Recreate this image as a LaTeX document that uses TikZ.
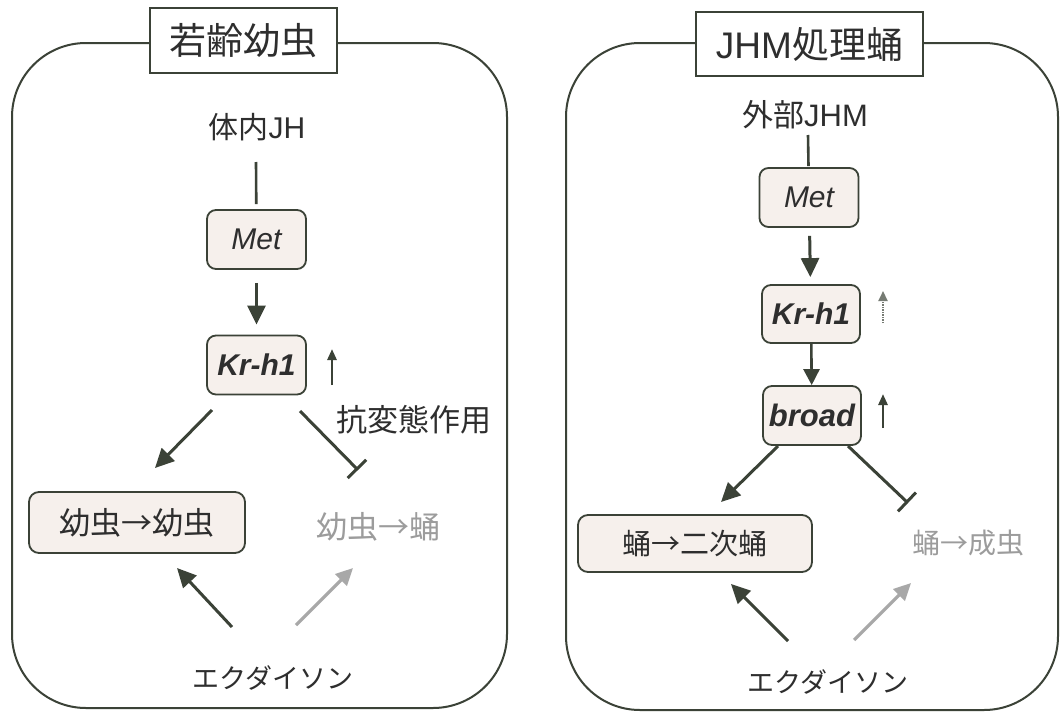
\documentclass[tikz,border=0pt]{standalone}
\usepackage{fontspec}
\setmainfont{Noto Sans CJK JP}
\newfontfamily\latf{Liberation Sans}
\usetikzlibrary{arrows.meta}
\definecolor{ink}{HTML}{3B4237}
\definecolor{boxfill}{HTML}{F6F0EC}
\definecolor{txt}{HTML}{2E2E2E}
\definecolor{pale}{HTML}{9C9C9C}
\definecolor{palearrow}{HTML}{A8A8A8}
\begin{document}
\begin{tikzpicture}[x=1pt,y=-1pt,
  panel/.style={draw=ink, line width=2pt, rounded corners=74pt},
  titlebox/.style={draw=ink, line width=2.4pt, fill=white, inner sep=0pt, text=txt,
    font=\fontsize{37}{40}\selectfont},
  gene/.style={draw=ink, line width=1.8pt, fill=boxfill, rounded corners=9pt,
    minimum width=99pt, minimum height=59pt, inner sep=0pt, text=txt},
  stagebox/.style={draw=ink, line width=1.8pt, fill=boxfill, rounded corners=10pt,
    inner sep=0pt, text=txt, font=\fontsize{28}{30}\selectfont},
  lbl/.style={text=txt, inner sep=0pt, font=\fontsize{27}{30}\selectfont},
  palelbl/.style={text=pale, inner sep=0pt, font=\fontsize{28}{30}\selectfont},
  link/.style={draw=ink, line width=2.6pt},
  act/.style={draw=ink, line width=3pt, -{Triangle[length=19pt,width=18pt]}},
  inh/.style={draw=ink, line width=3pt, -{Bar[width=26pt,line width=3pt]}},
  weak/.style={draw=palearrow, line width=3.2pt, -{Triangle[length=17pt,width=16pt]}},
  uparrow/.style={draw=ink, line width=2.6pt, -{Triangle[length=11pt,width=9pt]}},
  paleup/.style={draw=ink!70, line width=2pt, dash pattern=on 1.5pt off 1pt, -{Triangle[length=10pt,width=9pt]}},
]
\useasboundingbox (0,0) rectangle (1062,720);
\fill[white] (0,0) rectangle (1062,720);

% ---------- left panel ----------
\draw[panel] (12,43) rectangle (507,708);
\node[titlebox, minimum width=187pt, minimum height=65pt] (tL) at (243.5,40.5) {若齢幼虫};

\node[lbl, font=\fontsize{30}{32}\selectfont] (jhL) at (257,127) {体内{\latf JH}};
\node[gene] (metL) at (256.5,239.5) {\fontsize{30}{30}\selectfont\latf\itshape Met};
\node[gene] (krL) at (256.5,365) {\fontsize{30}{30}\selectfont\latf\bfseries\itshape Kr-h1};
\node[lbl, font=\fontsize{31}{32}\selectfont] (antiL) at (414,420) {抗変態作用};
\node[stagebox, minimum width=216pt, minimum height=61pt, font=\fontsize{31}{32}\selectfont] (llL) at (137,522.5) {幼虫→幼虫};
\node[palelbl, font=\fontsize{31}{32}\selectfont] (lpL) at (378,527) {幼虫→蛹};
\node[lbl] (ecL) at (273,678) {エクダイソン};

\coordinate (jhLe) at (256,162);
\coordinate (krLa) at (212,410);
\coordinate (krLb) at (300,411);
\coordinate (llLt) at (155,468);
\coordinate (lpLt) at (358,470);
\coordinate (ecLa) at (232,627);
\coordinate (ecLb) at (296,625);
\coordinate (llLb) at (177,568);
\coordinate (lpLb) at (353,568);
\coordinate (upLs) at (332,385);
\coordinate (upLe) at (332,349);

\draw[link, shorten >=5pt] (jhLe) -- (metL);
\draw[act, shorten <=13pt, shorten >=10pt] (metL) -- (krL);
\draw[act] (krLa) -- (llLt);
\draw[inh] (krLb) -- (lpLt);
\draw[act] (ecLa) -- (llLb);
\draw[weak] (ecLb) -- (lpLb);
\draw[uparrow] (upLs) -- (upLe);

% ---------- right panel ----------
\draw[panel] (566,43) rectangle (1058,710);
\node[titlebox, minimum width=227pt, minimum height=64pt] (tR) at (809.5,44) {{\latf JHM}処理蛹};

\node[lbl, font=\fontsize{31}{32}\selectfont] (jhR) at (805,115) {外部{\latf JHM}};
\node[gene] (metR) at (809,197.5) {\fontsize{30}{30}\selectfont\latf\itshape Met};
\node[gene, minimum width=98pt, minimum height=58pt] (krR) at (811,314) {\fontsize{30}{30}\selectfont\latf\bfseries\itshape Kr-h1};
\node[gene, minimum width=98pt, minimum height=59pt] (brR) at (812,415.5) {\fontsize{31}{30}\selectfont\latf\bfseries\itshape broad};
\node[stagebox, minimum width=234pt, minimum height=57pt, font=\fontsize{29}{30}\selectfont] (ppR) at (695,543.5) {蛹→二次蛹};
\node[palelbl] (paR) at (968,543) {蛹→成虫};
\node[lbl] (ecR) at (828,682) {エクダイソン};

\coordinate (jhRe) at (808,135);
\coordinate (brRa) at (778,446);
\coordinate (brRb) at (848,446);
\coordinate (ppRt) at (721,502);
\coordinate (paRt) at (908,503);
\coordinate (ecRa) at (788,641);
\coordinate (ecRb) at (854,640);
\coordinate (ppRb) at (731,584);
\coordinate (paRb) at (911,583);
\coordinate (upR1s) at (883,323);
\coordinate (upR1e) at (883,291);
\coordinate (upR2s) at (883,428);
\coordinate (upR2e) at (883,394);

\draw[link, shorten >=1pt] (jhRe) -- (metR);
\draw[act, shorten <=8pt, shorten >=7pt] (metR) -- (krR);
\draw[act, -{Triangle[length=16pt,width=16pt]}, line width=2.6pt] (krR) -- (brR);
\draw[act] (brRa) -- (ppRt);
\draw[inh] (brRb) -- (paRt);
\draw[act] (ecRa) -- (ppRb);
\draw[weak] (ecRb) -- (paRb);
\draw[paleup] (upR1s) -- (upR1e);
\draw[uparrow] (upR2s) -- (upR2e);
\end{tikzpicture}
\end{document}
